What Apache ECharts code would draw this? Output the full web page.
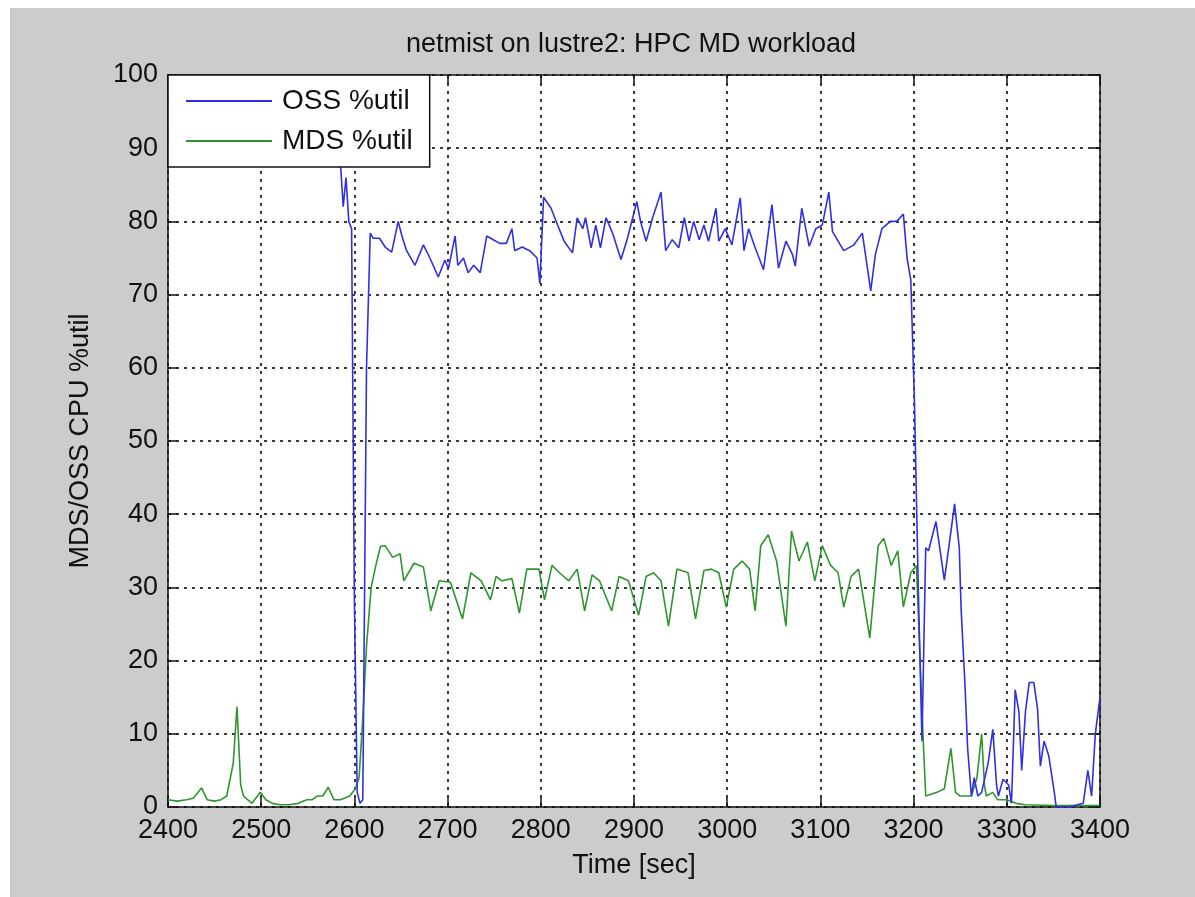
<!DOCTYPE html>
<html>
<head>
<meta charset="utf-8">
<script src="https://cdn.jsdelivr.net/npm/echarts@6/dist/echarts.min.js"></script>
<style>
  html, body { margin: 0; padding: 0; background: #ffffff; }
  #bg { position: absolute; left: 10px; top: 8px; width: 1185px; height: 889px; background: #cccccc; }
  #chart { position: absolute; left: 0; top: 0; width: 1195px; height: 897px; }
</style>
</head>
<body>
<div id="bg"></div>
<div id="chart"></div>
<script>
const titleText = 'netmist on lustre2: HPC MD workload';
const xAxisName = 'Time [sec]';
const yAxisName = 'MDS/OSS CPU %util';
const seriesNames = ['OSS %util', 'MDS %util'];

const ossTime = [2400,2410,2420,2430,2440,2450,2460,2470,2480,2490,2500,2510,2520,2530,2540,2550,2560,2570,2580,
  2585,2588,2591,2594,2597,2600,2603,2606,2609,2613,2617,2620,2627,2633,2640,2647,2651,2656,2665,2674,2681,2690,
  2697,2701,2708,2711,2717,2722,2728,2735,2742,2749,2756,2763,2769,2772,2780,2788,2796,2799,2803,2811,2818,2825,
  2834,2839,2845,2848,2854,2859,2864,2870,2877,2886,2893,2903,2907,2913,2920,2929,2934,2941,2948,2954,2959,2964,
  2970,2975,2980,2988,2991,2998,3005,3014,3018,3023,3030,3039,3048,3055,3063,3070,3073,3080,3088,3095,3102,3109,
  3113,3125,3136,3145,3154,3159,3166,3175,3182,3189,3193,3197,3201,3205,3209,3213,3216,3224,3233,3242,3244,3249,
  3251,3255,3258,3262,3265,3269,3273,3280,3285,3289,3291,3296,3302,3305,3309,3313,3316,3320,3324,3329,3333,3336,
  3340,3345,3351,3353,3367,3382,3387,3391,3395,3400];
const ossUtil = [94,95,93,96,95,94,96,95,93,95,94,96,95,93,94,95,93,92,90,
  88,82,86,80,79,28,2,0.5,1,60,78.4,77.7,77.7,76.5,75.8,80,78,76,74,76.8,75,72.4,
  74.7,73.6,78,74,75,73,74,73,78,77.5,77,77,79,76,76.5,76,75,71.5,83.3,81.8,79.5,77.3,
  75.7,80.5,79,80.5,76.4,79.5,76.4,80.5,78.4,74.8,77.7,82.7,80,77.3,80.5,84,76,77.5,76.4,80.5,77.3,80,
  77.5,79.5,77.3,81.8,77.3,79,76.8,83.2,76,79,76.4,73.4,82.3,73.6,77.3,75.5,73.9,81.8,76.6,79,79.5,84,
  78.6,76,76.8,78.4,70.5,75.5,79,80,80,81,75,72,55,30,9,35.4,35,39,31,39.5,41.4,35.4,
  27,17,8,1.5,4,1.5,2,6,10.6,3,1.5,3.8,3,0.5,16,13,5,13,17,17,13.4,5.6,
  9,7,2,0,0,0.5,5,1.5,10,15];

const mdsTime = [2400,2410,2420,2427,2436,2442,2450,2457,2463,2470,2474,2478,2481,2490,2499,2505,2512,2520,2530,
  2540,2549,2555,2560,2566,2572,2578,2585,2595,2601,2605,2609,2613,2618,2623,2628,2633,2641,2649,2653,2664,2674,
  2682,2691,2703,2716,2725,2736,2746,2752,2758,2769,2777,2785,2798,2804,2812,2820,2830,2839,2847,2855,2863,2876,
  2884,2894,2905,2913,2921,2929,2937,2946,2958,2966,2975,2983,2991,2999,3007,3016,3024,3030,3036,3044,3053,3063,
  3069,3077,3086,3094,3102,3111,3119,3125,3133,3141,3153,3162,3168,3176,3183,3189,3197,3203,3207,3210,3213,3225,
  3233,3240,3245,3250,3262,3268,3273,3276,3278,3285,3290,3300,3310,3320,3350,3400];
const mdsUtil = [1,0.8,1,1.2,2.6,1,0.8,1,1.5,6,13.7,3,1.5,0.5,2,1,0.5,0.3,0.3,
  0.5,1,1,1.5,1.5,2.7,1,1,1.5,2.5,4,12,22,30,33,35.6,35.7,34.1,34.6,30.9,33.3,32.8,
  26.8,30.9,30.7,25.7,32,30.9,28.3,31.5,30.9,31.2,26.5,32.5,32.5,28.3,33,32,30.9,32.5,26.8,31.7,30.9,26.8,
  31.5,30.9,26.2,31.5,32,30.9,24.7,32.5,32,25.7,32.3,32.5,32,27.3,32.5,33.6,32.5,26.8,35.7,37.2,33.6,24.7,
  37.7,33.6,36.2,30.9,35.7,33,32,27.3,31.5,32.5,23.1,35.7,36.7,33,35,27.3,32,33,20,10,1.5,2,
  2.5,8,2,1.5,1.5,4,10,3,1.5,2,1,1,0.5,0.3,0.2,0.2];

const xTicks = { min: 2400, max: 3400, interval: 100 };
const yTicks = { min: 0, max: 100, interval: 10 };

const FONT = '"Liberation Sans", Arial, sans-serif';
const chart = echarts.init(document.getElementById('chart'), null, { renderer: 'canvas' });

const gridLine = { show: true, lineStyle: { color: '#3a3a3a', width: 2, type: [3, 5] } };
const axisLine = { show: true, onZero: false, lineStyle: { color: '#111', width: 1.5 } };
const axisTick = { show: true, inside: true, length: 9, lineStyle: { color: '#111', width: 1.5 } };

chart.setOption({
  backgroundColor: 'transparent',
  animation: false,
  title: {
    text: titleText, left: 631, top: 31, textAlign: 'center', padding: 0,
    textStyle: { fontFamily: FONT, fontSize: 27, fontWeight: 'normal', color: '#111' }
  },
  grid: { left: 168, right: 95, top: 75, bottom: 90, show: true, backgroundColor: '#ffffff', borderWidth: 0 },
  legend: {
    left: 168, top: 75, orient: 'vertical',
    padding: [12, 17, 12, 18], itemGap: 12,
    itemWidth: 86, itemHeight: 2, icon: 'rect',
    backgroundColor: '#ffffff', borderColor: '#111', borderWidth: 1.5,
    textStyle: { fontFamily: FONT, fontSize: 28, color: '#111', padding: [0, 0, 0, 5] },
    data: seriesNames
  },
  xAxis: [{
    type: 'value', min: xTicks.min, max: xTicks.max, interval: xTicks.interval,
    name: xAxisName, nameLocation: 'middle', nameGap: 45,
    nameTextStyle: { fontFamily: FONT, fontSize: 27, color: '#111' },
    axisLine, axisTick,
    axisLabel: { fontFamily: FONT, fontSize: 27, color: '#111', margin: 10, formatter: v => String(v) },
    splitLine: gridLine
  }, {
    type: 'value', position: 'top', min: xTicks.min, max: xTicks.max, interval: xTicks.interval,
    axisLine, axisTick, axisLabel: { show: false }, splitLine: { show: false }
  }],
  yAxis: [{
    type: 'value', min: yTicks.min, max: yTicks.max, interval: yTicks.interval,
    name: yAxisName, nameLocation: 'middle', nameGap: 74, nameRotate: 90,
    nameTextStyle: { fontFamily: FONT, fontSize: 27, color: '#111' },
    axisLine, axisTick,
    axisLabel: { fontFamily: FONT, fontSize: 27, color: '#111', margin: 10, formatter: v => String(v) },
    splitLine: gridLine
  }, {
    type: 'value', position: 'right', min: yTicks.min, max: yTicks.max, interval: yTicks.interval,
    axisLine, axisTick, axisLabel: { show: false }, splitLine: { show: false }
  }],
  series: [{
    name: seriesNames[0], type: 'line', showSymbol: false, symbol: 'none',
    color: '#3030e0', lineStyle: { width: 1.6, color: '#3030e0' },
    data: ossTime.map((t, i) => [t, ossUtil[i]]), z: 3
  }, {
    name: seriesNames[1], type: 'line', showSymbol: false, symbol: 'none',
    color: '#2e962e', lineStyle: { width: 1.6, color: '#2e962e' },
    data: mdsTime.map((t, i) => [t, mdsUtil[i]]), z: 2
  }]
});
</script>
</body>
</html>
